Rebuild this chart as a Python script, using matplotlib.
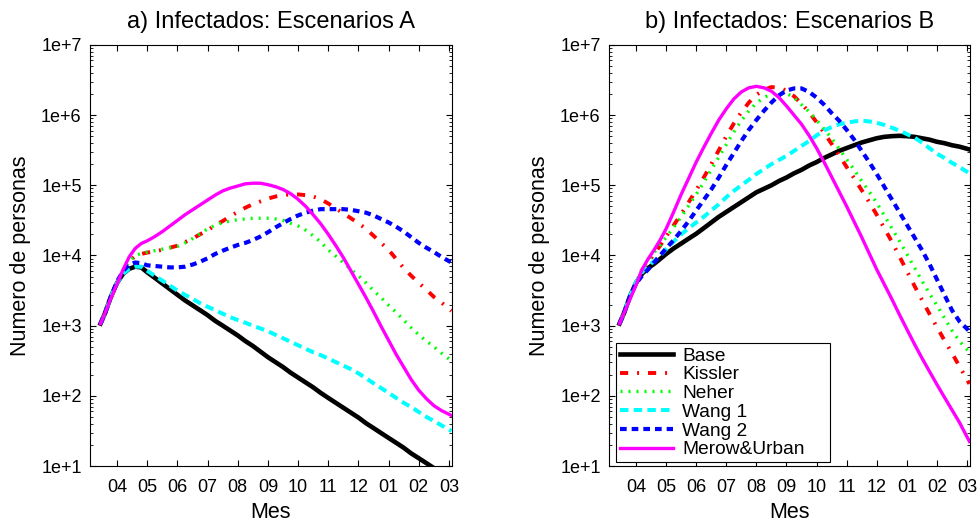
import math
import matplotlib
matplotlib.use("Agg")
import matplotlib.pyplot as plt
from matplotlib.ticker import FixedLocator, FuncFormatter, NullFormatter

plt.rcParams['font.family'] = ['Liberation Sans', 'DejaVu Sans']

# Time axis: months elapsed since 1 March (tick "04" = 1 April, ..., "03" = 1 March)
mes = [0.45, 0.6, 0.8, 1.0, 1.2, 1.4, 1.6, 1.8,
       2.0, 2.25, 2.5, 2.75, 3.0, 3.25, 3.5, 3.75, 4.0, 4.25, 4.5, 4.75,
       5.0, 5.25, 5.5, 5.75, 6.0, 6.25, 6.5, 6.75, 7.0, 7.25, 7.5, 7.75,
       8.0, 8.25, 8.5, 8.75, 9.0, 9.25, 9.5, 9.75, 10.0, 10.25, 10.5, 10.75,
       11.0, 11.25, 11.5, 11.75, 12.08]
month_ticks = [1, 2, 3, 4, 5, 6, 7, 8, 9, 10, 11, 12]
month_labels = ['04', '05', '06', '07', '08', '09', '10', '11', '12', '01', '02', '03']
decade_ticks = [1e1, 1e2, 1e3, 1e4, 1e5, 1e6, 1e7]
minor_ticks = [m * d for d in [1e1, 1e2, 1e3, 1e4, 1e5, 1e6] for m in range(2, 10)]

series_names = ['Base', 'Kissler', 'Neher', 'Wang 1', 'Wang 2', 'Merow&Urban']

# Scenario A: number of infected people
base_a = [1070, 1510, 2630, 4070, 5500, 6460, 6920, 6760,
          5750, 4790, 3980, 3310, 2750, 2290, 1950, 1660, 1410, 1170, 1000, 851,
          724, 603, 513, 427, 355, 302, 257, 214, 182, 155, 132, 110,
          93.3, 79.4, 67.6, 57.5, 49.0, 40.7, 34.7, 29.5, 25.1, 21.4, 18.2, 15.1,
          12.9, 11.0, 9.33, 7.94, 6.31]
kissler_a = [1070, 1510, 2510, 3980, 6030, 8320, 9770, 10500,
             11000, 11500, 12000, 12900, 13800, 15500, 17400, 20000, 22900, 26900, 30900, 36300,
             41700, 47900, 53700, 58900, 64600, 69200, 72400, 74100, 74100, 72400, 69200, 63100,
             55000, 46800, 39800, 33900, 28800, 24000, 19100, 15100, 12000, 8910, 6610, 5130,
             4070, 3240, 2570, 2140, 1620]
neher_a = [1070, 1510, 2510, 3980, 6030, 8320, 10000, 10700,
           11200, 11700, 12300, 12900, 13500, 15100, 17400, 20400, 24000, 26900, 29500, 30900,
           32400, 33100, 33900, 33900, 33900, 33100, 31600, 28800, 26300, 22900, 19100, 15500,
           12000, 9770, 7940, 6310, 5130, 4070, 3160, 2510, 1950, 1550, 1200, 933,
           741, 603, 501, 407, 316]
wang1_a = [1070, 1510, 2630, 4070, 5500, 6460, 6920, 6920,
           6030, 5130, 4370, 3720, 3160, 2750, 2400, 2090, 1860, 1660, 1480, 1320,
           1200, 1100, 1000, 912, 832, 741, 661, 589, 525, 468, 417, 380,
           339, 302, 269, 240, 209, 178, 151, 129, 110, 93.3, 79.4, 69.2,
           58.9, 50.1, 43.7, 38.0, 31.6]
wang2_a = [1070, 1510, 2630, 4270, 6030, 7410, 7940, 7760,
           7240, 7080, 6920, 6760, 6760, 6920, 7410, 8130, 9120, 10500, 11700, 12900,
           14100, 15100, 16600, 18600, 21400, 25100, 28800, 33100, 37200, 40700, 43700, 45700,
           45700, 45700, 45700, 44700, 42700, 40700, 37200, 33100, 29500, 25700, 21900, 18200,
           15100, 12900, 11200, 9550, 7940]
merow_a = [1070, 1510, 2510, 3980, 6310, 9550, 12600, 14800,
           16200, 18600, 21900, 26300, 31600, 38000, 44700, 52500, 61700, 72400, 83200, 91200,
           97700, 105000, 107000, 107000, 102000, 95500, 87100, 75900, 63100, 50100, 38000, 28200,
           20000, 13800, 9330, 6030, 3890, 2510, 1580, 977, 617, 389, 257, 170,
           120, 91.2, 72.4, 61.7, 52.5]

# Scenario B: number of infected people
base_b = [1070, 1510, 2630, 4070, 5500, 6610, 7590, 8910,
          10500, 12600, 14800, 17400, 20400, 24500, 29500, 35500, 41700, 49000, 57500, 67600,
          79400, 89100, 100000, 115000, 129000, 148000, 166000, 191000, 214000, 245000, 275000,
          309000, 339000, 372000, 407000, 437000, 468000, 490000, 501000, 507000, 501000, 490000,
          468000, 447000, 417000, 398000, 372000, 355000, 324000]
kissler_b = [1070, 1510, 2510, 4170, 6170, 7940, 10500, 13800,
             18600, 26900, 38900, 57500, 85100, 129000, 200000, 316000, 501000, 759000, 1100000,
             1510000, 1950000, 2290000, 2510000, 2450000, 2240000, 1860000, 1450000, 1100000,
             794000, 562000, 389000, 269000, 182000, 126000, 85100, 57500, 38000, 24500, 15800,
             9770, 6030, 3720, 2340, 1480, 955, 617, 407, 263, 148]
neher_b = [1070, 1510, 2510, 4170, 6310, 8510, 11000, 14100,
           18200, 25100, 35500, 51300, 74100, 110000, 166000, 251000, 380000, 575000, 832000,
           1150000, 1480000, 1780000, 2000000, 2090000, 2040000, 1780000, 1410000, 1120000,
           851000, 631000, 468000, 331000, 234000, 166000, 115000, 81300, 56200, 37200, 24500,
           16200, 10500, 6760, 4370, 2880, 1950, 1290, 851, 603, 417]
wang1_b = [1070, 1510, 2630, 4170, 5750, 7080, 8320, 10000,
           12300, 15800, 20000, 24500, 29500, 35500, 43700, 53700, 67600, 83200, 100000, 120000,
           145000, 170000, 200000, 229000, 263000, 309000, 363000, 427000, 513000, 603000,
           676000, 741000, 776000, 813000, 832000, 813000, 776000, 724000, 661000, 603000,
           537000, 479000, 407000, 339000, 282000, 245000, 209000, 182000, 148000]
wang2_b = [1070, 1510, 2630, 3980, 5130, 6310, 7940, 10000,
           12600, 16600, 22400, 30900, 43700, 61700, 87100, 129000, 195000, 288000, 427000,
           617000, 851000, 1150000, 1510000, 1910000, 2240000, 2400000, 2400000, 2140000,
           1780000, 1410000, 1070000, 832000, 617000, 447000, 309000, 214000, 145000, 95500,
           63100, 41700, 27500, 18200, 12000, 7590, 4570, 2750, 1660, 1150, 832]
merow_b = [1070, 1510, 2400, 3800, 6310, 8910, 12000, 16600,
           24000, 41700, 74100, 126000, 214000, 347000, 550000, 851000, 1230000, 1700000,
           2140000, 2450000, 2570000, 2450000, 2190000, 1780000, 1350000, 1000000, 741000,
           513000, 339000, 214000, 132000, 81300, 50100, 30200, 18200, 10700, 6310, 3890, 2400,
           1450, 891, 550, 347, 224, 145, 95.5, 63.1, 41.7, 22.4]

styles = [
    dict(color='black', lw=3.3, linestyle='-'),
    dict(color='#ff0000', lw=2.8, linestyle=(0, (2.1, 2.3, 0.5, 2.3))),
    dict(color='#00ff00', lw=2.4, linestyle=(0, (0.6, 1.8))),
    dict(color='#00ffff', lw=2.9, linestyle=(0, (2.1, 1.3))),
    dict(color='#0000ff', lw=3.0, linestyle=(0, (1.6, 1.2))),
    dict(color='#ff00ff', lw=2.4, linestyle='-'),
]

fig = plt.figure(figsize=(9.8, 5.31), dpi=100)
ax_a = fig.add_axes([0.0918, 0.1224, 0.3694, 0.793])
ax_b = fig.add_axes([0.6214, 0.1224, 0.3684, 0.793])

panels = [
    (ax_a, 'a) Infectados: Escenarios A', [base_a, kissler_a, neher_a, wang1_a, wang2_a, merow_a]),
    (ax_b, 'b) Infectados: Escenarios B', [base_b, kissler_b, neher_b, wang1_b, wang2_b, merow_b]),
]


def exp_label(v, pos):
    return f'1e+{int(round(math.log10(v)))}'


for ax, title, data in panels:
    for name, vals, st in zip(series_names, data, styles):
        ax.plot(mes, vals, label=name, **st)
    ax.set_yscale('log')
    ax.set_ylim(10, 1e7)
    ax.set_xlim(0.1, 12.1)
    ax.xaxis.set_major_locator(FixedLocator(month_ticks))
    ax.set_xticklabels(month_labels)
    ax.yaxis.set_major_locator(FixedLocator(decade_ticks))
    ax.yaxis.set_minor_locator(FixedLocator(minor_ticks))
    ax.yaxis.set_major_formatter(FuncFormatter(exp_label))
    ax.yaxis.set_minor_formatter(NullFormatter())
    ax.tick_params(which='both', direction='in', top=True, right=True, labelsize=13)
    ax.tick_params(which='major', length=4, width=0.8)
    ax.tick_params(which='minor', length=2, width=0.6)
    ax.tick_params(axis='x', pad=9)
    ax.tick_params(axis='y', pad=6)
    for sp in ax.spines.values():
        sp.set_linewidth(0.8)
    ax.set_title(title, fontsize=17, pad=12)
    ax.set_xlabel('Mes', fontsize=15.5, labelpad=5)
    ax.set_ylabel('Numero de personas', fontsize=15.5, labelpad=7)

leg = ax_b.legend(loc='lower left', bbox_to_anchor=(0.019, 0.009, 0.593, 0.28), mode='expand',
                  borderaxespad=0, fontsize=13.8, handlelength=2.8, handletextpad=0.45,
                  labelspacing=0.07, borderpad=0.2, fancybox=False, framealpha=1,
                  edgecolor='black')
leg.get_frame().set_linewidth(0.8)

fig.savefig('out.png', dpi=100)
